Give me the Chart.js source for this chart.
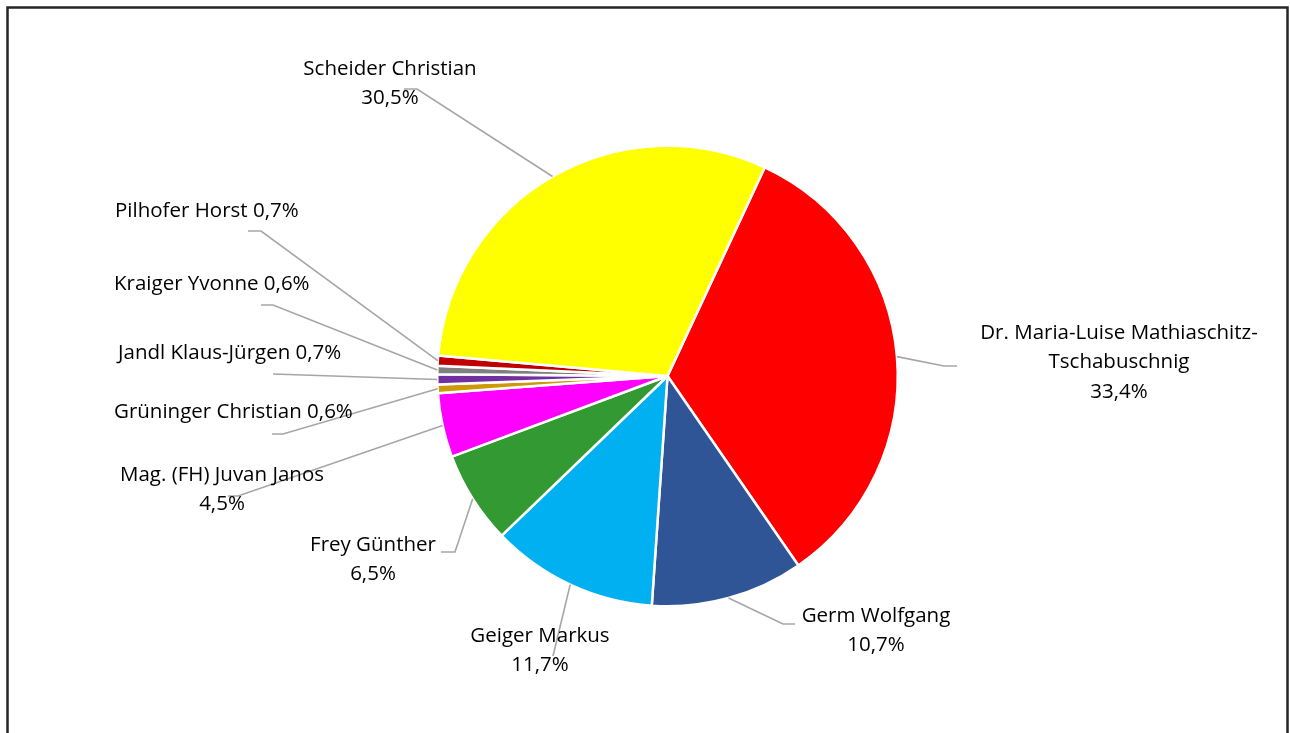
<!DOCTYPE html>
<html>
<head>
<meta charset="utf-8">
<script src="https://cdn.jsdelivr.net/npm/chart.js@4.4.1/dist/chart.umd.min.js"></script>
<style>
  html, body { margin: 0; padding: 0; background: #fff; }
  canvas { display: block; }
</style>
</head>
<body>
<canvas id="voteChart" width="1290" height="733"></canvas>
<script>
// values (percent of votes)
const candidates = [
  "Dr. Maria-Luise Mathiaschitz-Tschabuschnig",
  "Germ Wolfgang",
  "Geiger Markus",
  "Frey Günther",
  "Mag. (FH) Juvan Janos",
  "Grüninger Christian",
  "Jandl Klaus-Jürgen",
  "Kraiger Yvonne",
  "Pilhofer Horst",
  "Scheider Christian"
];
const shares = [33.4, 10.7, 11.7, 6.5, 4.5, 0.6, 0.7, 0.6, 0.7, 30.5];
const sliceColors = [
  "#FF0000", "#2F5597", "#00B0F0", "#339933", "#FF00FF",
  "#CC9A06", "#7030A0", "#808080", "#C00000", "#FFFF00"
];

const FONT = "20.5px 'Open Sans', Lato, sans-serif";

function pct(v) {
  return v.toFixed(1).replace(".", ",") + "%";
}

// where each label sits and how its leader bends (layout only)
const labelLayout = [
  { lines: ["Dr. Maria-Luise Mathiaschitz-", "Tschabuschnig", "%"], x: 1119, y: 333, align: "center", elbow: [944, 366], end: [957, 366] },
  { lines: ["Germ Wolfgang", "%"], x: 876, y: 616, align: "center", elbow: [783, 624], end: [795, 624] },
  { lines: ["Geiger Markus", "%"], x: 540, y: 636, align: "center", elbow: [553, 656], end: [553, 656] },
  { lines: ["Frey Günther", "%"], x: 373, y: 545, align: "center", elbow: [455, 552], end: [441, 552] },
  { lines: ["Mag. (FH) Juvan Janos", "%"], x: 222, y: 475, align: "center", elbow: [238, 496], end: [228, 496] },
  { lines: ["Grüninger Christian %"], x: 114, y: 412, align: "left", elbow: [283, 434], end: [272, 434] },
  { lines: ["Jandl Klaus-Jürgen %"], x: 118, y: 353, align: "left", elbow: [273, 374], end: [273, 374] },
  { lines: ["Kraiger Yvonne %"], x: 114, y: 284, align: "left", elbow: [273, 305], end: [261, 305] },
  { lines: ["Pilhofer Horst %"], x: 115, y: 211, align: "left", elbow: [261, 231], end: [248, 231] },
  { lines: ["Scheider Christian", "%"], x: 390, y: 69, align: "center", elbow: [417, 89], end: [404, 89] }
];

const labelPlugin = {
  id: "excelLabels",
  afterDraw(chart) {
    const c = chart.ctx;
    const arcs = chart.getDatasetMeta(0).data;

    // chart frame
    c.save();
    c.strokeStyle = "#262626";
    c.lineWidth = 2.5;
    c.beginPath();
    c.moveTo(7.5, 740);
    c.lineTo(7.5, 7.5);
    c.lineTo(1287.5, 7.5);
    c.lineTo(1287.5, 740);
    c.stroke();

    // leader lines
    c.strokeStyle = "#A6A6A6";
    c.lineWidth = 1.6;
    arcs.forEach((arc, i) => {
      const L = labelLayout[i];
      const mid = (arc.startAngle + arc.endAngle) / 2;
      const sx = arc.x + Math.cos(mid) * arc.outerRadius;
      const sy = arc.y + Math.sin(mid) * arc.outerRadius;
      c.beginPath();
      c.moveTo(sx, sy);
      c.lineTo(L.elbow[0], L.elbow[1]);
      c.lineTo(L.end[0], L.end[1]);
      c.stroke();
    });

    // label text
    c.fillStyle = "#000";
    c.font = FONT;
    c.textBaseline = "middle";
    arcs.forEach((arc, i) => {
      const L = labelLayout[i];
      c.textAlign = L.align;
      L.lines.forEach((ln, k) => {
        const txt = ln.replace("%", pct(shares[i]));
        c.fillText(txt, L.x, L.y + k * 29.5);
      });
    });
    c.restore();
  }
};

new Chart(document.getElementById("voteChart"), {
  type: "pie",
  data: {
    labels: candidates,
    datasets: [{
      data: shares,
      backgroundColor: sliceColors,
      borderColor: "#FFFFFF",
      borderWidth: 2.5
    }]
  },
  options: {
    responsive: false,
    animation: false,
    rotation: 25,
    layout: {
      padding: { left: 436, right: 391, top: 144, bottom: 125 }
    },
    plugins: {
      legend: { display: false },
      tooltip: { enabled: false }
    }
  },
  plugins: [labelPlugin]
});
</script>
</body>
</html>
